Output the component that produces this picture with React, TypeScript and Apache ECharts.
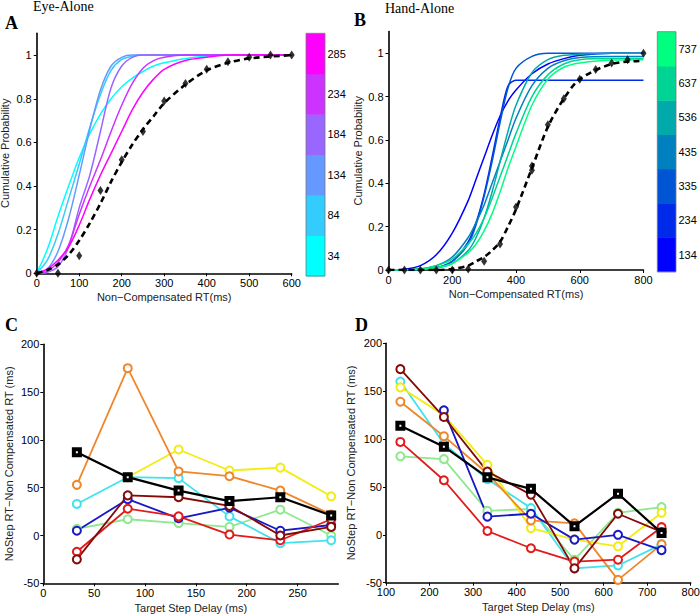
import React, { useEffect, useRef } from "react";
import * as echarts from "echarts";

// ---------- Panel A (Eye-Alone) ----------
const aX = [0, 25, 50, 75, 100, 125, 150, 175, 200, 225, 250, 275, 300, 350, 400, 450, 500, 600];
const aCurve34 = [0, 0.11, 0.26, 0.4, 0.53, 0.64, 0.73, 0.8, 0.855, 0.895, 0.925, 0.95, 0.965, 0.985, 0.995, 1, 1, 1];
const aCurve84 = [0, 0.06, 0.18, 0.34, 0.5, 0.67, 0.82, 0.93, 0.98, 0.995, 1, 1, 1, 1, 1, 1, 1, 1];
const aCurve134 = [0, 0.02, 0.1, 0.25, 0.45, 0.66, 0.84, 0.95, 0.99, 1, 1, 1, 1, 1, 1, 1, 1, 1];
const aCurve184 = [0, 0.005, 0.03, 0.12, 0.3, 0.45, 0.65, 0.85, 0.95, 0.99, 1, 1, 1, 1, 1, 1, 1, 1];
const aCurve234 = [0, 0.01, 0.05, 0.13, 0.27, 0.4, 0.52, 0.65, 0.77, 0.87, 0.94, 0.975, 0.99, 1, 1, 1, 1, 1];
const aCurve285 = [0, 0.02, 0.06, 0.12, 0.22, 0.34, 0.45, 0.55, 0.65, 0.75, 0.83, 0.89, 0.935, 0.975, 0.99, 1, 1, 1];
const aDashed = [0, 0.015, 0.04, 0.085, 0.15, 0.23, 0.32, 0.42, 0.51, 0.59, 0.66, 0.72, 0.78, 0.865, 0.93, 0.965, 0.985, 1];
const aDiamondX = [0, 50, 100, 150, 200, 250, 300, 350, 400, 450, 500, 550, 600];
const aDiamondY = [0, 0, 0.08, 0.38, 0.52, 0.65, 0.79, 0.87, 0.935, 0.97, 0.99, 1, 1];
const aBarLabels = ["34", "84", "134", "184", "234", "285"];
const aColors = ["#00ffff", "#33ccff", "#6699ff", "#9966ff", "#cc33ff", "#ff00ff"];

// ---------- Panel B (Hand-Alone) ----------
const bX = [0, 50, 100, 150, 200, 250, 275, 300, 325, 350, 375, 400, 450, 500, 550, 600, 700, 800];
const bCurve134 = [0, 0.003, 0.02, 0.07, 0.17, 0.32, 0.42, 0.52, 0.62, 0.71, 0.78, 0.83, 0.905, 0.95, 0.975, 0.99, 1, 1];
const bCurve234 = [0, 0, 0.003, 0.01, 0.04, 0.13, 0.22, 0.35, 0.52, 0.7, 0.85, 0.875, 0.875, 0.875, 0.875, 0.875, 0.875, 0.875];
const bCurve335 = [0, 0, 0.003, 0.01, 0.04, 0.12, 0.21, 0.34, 0.5, 0.68, 0.84, 0.93, 0.985, 1, 1, 1, 1, 1];
const bCurve435 = [0, 0, 0.005, 0.02, 0.06, 0.15, 0.22, 0.3, 0.4, 0.5, 0.6, 0.7, 0.85, 0.93, 0.965, 0.98, 0.985, 0.985];
const bCurve536 = [0, 0, 0.003, 0.01, 0.03, 0.09, 0.15, 0.24, 0.36, 0.5, 0.64, 0.76, 0.91, 0.97, 0.99, 0.995, 1, 1];
const bCurve637 = [0, 0, 0.005, 0.02, 0.05, 0.12, 0.17, 0.24, 0.33, 0.43, 0.53, 0.63, 0.8, 0.9, 0.95, 0.97, 0.975, 0.975];
const bCurve737 = [0, 0, 0.003, 0.01, 0.03, 0.08, 0.12, 0.18, 0.26, 0.36, 0.47, 0.57, 0.76, 0.88, 0.935, 0.955, 0.968, 0.97];
const bDashed = [0, 0, 0, 0, 0.005, 0.02, 0.04, 0.06, 0.09, 0.13, 0.2, 0.28, 0.47, 0.66, 0.79, 0.88, 0.95, 0.965];
const bDiamondX = [0, 50, 100, 150, 200, 250, 300, 350, 400, 450, 450, 500, 550, 600, 650, 700, 750, 800];
const bDiamondY = [0, 0, 0, 0, 0, 0.005, 0.04, 0.12, 0.29, 0.46, 0.48, 0.67, 0.79, 0.88, 0.925, 0.955, 0.97, 1];
const bBarLabels = ["134", "234", "335", "435", "536", "637", "737"];
const bColors = ["#0000ff", "#002aea", "#0055d5", "#0080bf", "#00aaaa", "#00d495", "#00ff80"];

// ---------- Panel C ----------
const cX = [33, 83, 133, 183, 233, 283];
const cBlack = [87, 61, 47, 36, 40, 21];
const cOrange = [53, 175, 67, 62, 47, 22];
const cYellow = [null, 61, 90, 68, 71, 41];
const cCyan = [33, 61, 60, 20, -8, -5];
const cBlue = [5, 38, 18, 29, 5, 11];
const cDarkRed = [-25, 42, 40, 31, 0, 9];
const cRed = [-17, 28, 20, 1, -5, 17];
const cGreen = [7, 17, 13, 9, 27, 0];

// ---------- Panel D ----------
const dX = [133, 233, 333, 433, 533, 633, 733];
const dBlack = [114, 92, 60, 48, 9, 43, 2];
const dDarkRed = [173, 123, 66, 42, -35, 22, 3];
const dCyan = [160, 95, 58, 28, -35, -32, -10];
const dYellow = [154, 125, 73, 7, -5, -12, 23];
const dOrange = [139, 103, 64, 15, 12, -47, -10];
const dBlue = [null, 130, 19, 22, -5, 0, -16];
const dRed = [97, 57, 4, -14, -28, -26, 8];
const dGreen = [82, 79, 25, 27, -26, 23, 29];

const lineColors = {
  orange: "#f0862a",
  yellow: "#f2ec10",
  cyan: "#3fe3ee",
  blue: "#1818c8",
  darkred: "#840a0a",
  red: "#e21a1a",
  green: "#8ee88e",
  black: "#000000",
};

const probTicks = [0, 0.2, 0.4, 0.6, 0.8, 1];
const cXTicks = [0, 50, 100, 150, 200, 250];

const SANS = "Liberation Sans, Arial, sans-serif";
const SERIF = "Liberation Serif, Times New Roman, serif";

function pairs(xs: number[], ys: (number | null)[]) {
  return xs.map((x, i) => [x, ys[i]]);
}

function axisBase(extra: any) {
  return {
    type: "value",
    nameLocation: "middle",
    axisLine: { show: true, onZero: false, lineStyle: { color: "#000", width: 1.6 } },
    axisTick: { show: true, inside: false, length: 3, lineStyle: { color: "#000", width: 1 } },
    axisLabel: { color: "#000", fontSize: 11, fontFamily: SANS, margin: 4 },
    splitLine: { show: false },
    nameTextStyle: { color: "#222", fontSize: 11, fontFamily: SANS },
    ...extra,
  };
}

function curve(name: string, xs: number[], ys: number[], color: string, idx: number) {
  return {
    name,
    type: "line",
    xAxisIndex: idx,
    yAxisIndex: idx,
    data: pairs(xs, ys),
    showSymbol: false,
    smooth: 0.3,
    lineStyle: { color, width: 1.5 },
    silent: true,
  };
}

function markedLine(name: string, xs: number[], ys: (number | null)[], color: string, idx: number, isMean = false) {
  return {
    name,
    type: "line",
    xAxisIndex: idx,
    yAxisIndex: idx,
    data: pairs(xs, ys),
    connectNulls: false,
    symbol: isMean ? "rect" : "emptyCircle",
    symbolSize: isMean ? 6 : 8,
    showSymbol: true,
    lineStyle: { color, width: isMean ? 2.2 : 1.8 },
    itemStyle: isMean
      ? { color: "#ffffff", borderColor: "#000", borderWidth: 4 }
      : { color, borderColor: color, borderWidth: 1.5 },
    z: isMean ? 5 : 3,
    silent: true,
  };
}

function colorbar(x: number, y: number, w: number, h: number, colors: string[], labels: string[]) {
  const n = colors.length;
  const bh = h / n;
  const els: any[] = [];
  for (let i = 0; i < n; i++) {
    const top = y + h - (i + 1) * bh;
    els.push({
      type: "rect",
      shape: { x, y: top, width: w, height: bh + 0.5 },
      style: { fill: colors[i] },
      silent: true,
    });
    els.push({
      type: "text",
      x: x + w + 2.5,
      y: top + bh / 2,
      style: { text: labels[i], fill: "#000", fontSize: 11, fontFamily: SANS, align: "left", verticalAlign: "middle" },
      silent: true,
    });
  }
  els.push({
    type: "rect",
    shape: { x, y, width: w, height: h },
    style: { fill: "none", stroke: "#777", lineWidth: 0.8 },
    silent: true,
  });
  return els;
}

function textEl(text: string, x: number, y: number, font: any) {
  return {
    type: "text",
    x,
    y,
    style: { text, fill: "#000", verticalAlign: "middle", align: "left", ...font },
    silent: true,
  };
}

export default function App() {
  const ref = useRef<HTMLDivElement>(null);
  useEffect(() => {
    document.body.style.margin = "0";
    if (!ref.current) return;
    const chart = echarts.init(ref.current, null, { renderer: "svg" });

    const grids = [
      { left: 36.7, top: 33.3, width: 255, height: 240 },
      { left: 388.5, top: 31.5, width: 255, height: 238.5 },
      { left: 43.3, top: 344.3, width: 295, height: 239 },
      { left: 386, top: 343.3, width: 304.7, height: 239.4 },
    ].map((g) => ({ ...g, show: false, containLabel: false, outerBoundsMode: "none" }));

    const xAxes = [
      axisBase({ gridIndex: 0, min: 0, max: 600, interval: 100, name: "Non\u2212Compensated RT(ms)", nameGap: 18 }),
      axisBase({ gridIndex: 1, min: 0, max: 800, interval: 200, name: "Non\u2212Compensated RT(ms)", nameGap: 18 }),
      axisBase({
        gridIndex: 2,
        min: 0,
        max: 290,
        name: "Target Step Delay (ms)",
        nameGap: 19,
        axisLabel: { color: "#000", fontSize: 11, fontFamily: SANS, margin: 4, customValues: cXTicks },
        axisTick: { show: true, length: 3, customValues: cXTicks, lineStyle: { color: "#000" } },
      }),
      axisBase({ gridIndex: 3, min: 100, max: 800, interval: 100, name: "Target Step Delay (ms)", nameGap: 19 }),
    ];

    const probAxis = (gi: number, gap: number) =>
      axisBase({
        gridIndex: gi,
        min: 0,
        max: 1.1,
        name: "Cumulative Probability",
        nameRotate: 90,
        nameGap: gap,
        axisLabel: { color: "#000", fontSize: 11, fontFamily: SANS, margin: 5, customValues: probTicks },
        axisTick: { show: true, length: 3, customValues: probTicks, lineStyle: { color: "#000" } },
      });

    const yAxes = [
      probAxis(0, 26),
      probAxis(1, 25),
      axisBase({
        gridIndex: 2,
        min: -50,
        max: 200,
        interval: 50,
        name: "NoStep RT\u2212Non Compensated RT (ms)",
        nameRotate: 90,
        nameGap: 29,
        axisLabel: { color: "#000", fontSize: 11, fontFamily: SANS, margin: 4 },
      }),
      axisBase({
        gridIndex: 3,
        min: -50,
        max: 200,
        interval: 50,
        name: "NoStep RT\u2212Non Compensated RT (ms)",
        nameRotate: 90,
        nameGap: 30,
        axisLabel: { color: "#000", fontSize: 11, fontFamily: SANS, margin: 4 },
      }),
    ];

    const aCurves = [aCurve34, aCurve84, aCurve134, aCurve184, aCurve234, aCurve285];
    const bCurves = [bCurve134, bCurve234, bCurve335, bCurve435, bCurve536, bCurve637, bCurve737];

    const series: any[] = [];
    aCurves.forEach((ys, i) => series.push(curve("A" + aBarLabels[i], aX, ys, aColors[i], 0)));
    series.push({
      name: "A-dashed",
      type: "line",
      xAxisIndex: 0,
      yAxisIndex: 0,
      data: pairs(aX, aDashed),
      showSymbol: false,
      smooth: 0.3,
      lineStyle: { color: "#000", width: 2.6, type: [6, 4] },
      z: 4,
      silent: true,
    });
    series.push({
      name: "A-points",
      type: "scatter",
      xAxisIndex: 0,
      yAxisIndex: 0,
      data: pairs(aDiamondX, aDiamondY),
      symbol: "diamond",
      symbolSize: [6, 9],
      itemStyle: { color: "#000" },
      z: 5,
      silent: true,
    });

    bCurves.forEach((ys, i) => series.push(curve("B" + bBarLabels[i], bX, ys, bColors[i], 1)));
    series.push({
      name: "B-dashed",
      type: "line",
      xAxisIndex: 1,
      yAxisIndex: 1,
      data: pairs(bX, bDashed),
      showSymbol: false,
      smooth: 0.3,
      lineStyle: { color: "#000", width: 2.6, type: [6, 4] },
      z: 4,
      silent: true,
    });
    series.push({
      name: "B-points",
      type: "scatter",
      xAxisIndex: 1,
      yAxisIndex: 1,
      data: pairs(bDiamondX, bDiamondY),
      symbol: "diamond",
      symbolSize: [6, 9],
      itemStyle: { color: "#000" },
      z: 5,
      silent: true,
    });

    const cSets: [string, (number | null)[], string][] = [
      ["green", cGreen, lineColors.green],
      ["cyan", cCyan, lineColors.cyan],
      ["yellow", cYellow, lineColors.yellow],
      ["orange", cOrange, lineColors.orange],
      ["blue", cBlue, lineColors.blue],
      ["red", cRed, lineColors.red],
      ["darkred", cDarkRed, lineColors.darkred],
    ];
    cSets.forEach(([n, ys, c]) => series.push(markedLine("C-" + n, cX, ys, c, 2)));
    series.push(markedLine("C-mean", cX, cBlack, lineColors.black, 2, true));

    const dSets: [string, (number | null)[], string][] = [
      ["green", dGreen, lineColors.green],
      ["cyan", dCyan, lineColors.cyan],
      ["yellow", dYellow, lineColors.yellow],
      ["orange", dOrange, lineColors.orange],
      ["blue", dBlue, lineColors.blue],
      ["red", dRed, lineColors.red],
      ["darkred", dDarkRed, lineColors.darkred],
    ];
    dSets.forEach(([n, ys, c]) => series.push(markedLine("D-" + n, dX, ys, c, 3)));
    series.push(markedLine("D-mean", dX, dBlack, lineColors.black, 3, true));

    const graphics: any[] = [
      textEl("Eye-Alone", 33, 6, { fontSize: 14, fontFamily: SERIF }),
      textEl("Hand-Alone", 385, 8, { fontSize: 14, fontFamily: SERIF }),
      textEl("A", 5, 23, { fontSize: 18, fontWeight: "bold", fontFamily: SERIF }),
      textEl("B", 354, 20, { fontSize: 18, fontWeight: "bold", fontFamily: SERIF }),
      textEl("C", 5, 325, { fontSize: 18, fontWeight: "bold", fontFamily: SERIF }),
      textEl("D", 355, 325, { fontSize: 18, fontWeight: "bold", fontFamily: SERIF }),
      ...colorbar(306, 33.3, 19, 242.7, aColors, aBarLabels),
      ...colorbar(657.3, 31.7, 18.7, 240, bColors, bBarLabels),
    ];

    chart.setOption({
      animation: false,
      backgroundColor: "#ffffff",
      grid: grids,
      xAxis: xAxes,
      yAxis: yAxes,
      series,
      graphic: graphics,
    });

    return () => chart.dispose();
  }, []);

  return <div ref={ref} style={{ width: 700, height: 614 }} />;
}
